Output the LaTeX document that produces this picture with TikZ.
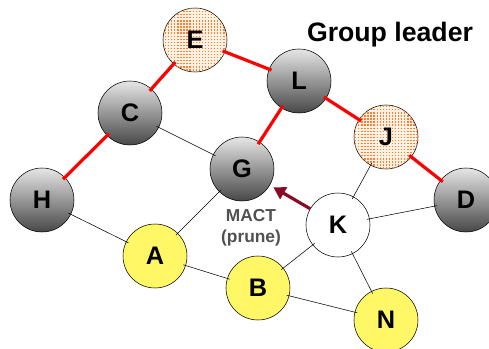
\documentclass[tikz,border=0pt]{standalone}
\usepackage{fontspec}
\setmainfont{Liberation Sans}
\usetikzlibrary{patterns,arrows.meta}
\definecolor{leaderdot}{RGB}{245,130,60}
\definecolor{pruneRed}{RGB}{140,10,40}
\definecolor{labelGray}{RGB}{80,80,80}
% fine dot raster for the leader hosts
\pgfdeclarepatternformonly{leaderdots}{\pgfqpoint{-1pt}{-1pt}}{\pgfqpoint{1pt}{1pt}}{\pgfqpoint{2.3pt}{2.3pt}}{%
  \pgfpathrectangle{\pgfqpoint{-0.5pt}{-0.5pt}}{\pgfqpoint{1pt}{1pt}}
  \pgfusepath{fill}}
\begin{document}
\begin{tikzpicture}[x=0.75pt,y=-0.75pt,
  host/.style={circle,draw,thin,minimum size=48pt,inner sep=0pt,
    font=\fontsize{19}{21}\selectfont\bfseries},
  member/.style={host,top color=black!10,middle color=black!30,bottom color=black!72},
  leader/.style={host,fill=orange!12,postaction={pattern=leaderdots,pattern color=leaderdot}},
  newbie/.style={host,fill=yellow!60},
  link/.style={thin,shorten <=-2pt,shorten >=-2pt},
  tree/.style={red,line width=2.4pt,shorten <=-2pt,shorten >=-2pt}]
  \useasboundingbox (0,0) rectangle (489,349);
  % hosts
  \node[leader] (E) at (195,40) {E};
  \node[member] (L) at (299,81) {L};
  \node[member] (C) at (130,113) {C};
  \node[leader] (J) at (386,137) {J};
  \node[member] (G) at (242,169) {G};
  \node[member] (H) at (42,200) {H};
  \node[member] (D) at (466,200) {D};
  \node[host] (K) at (338,225) {K};
  \node[newbie] (A) at (155,256) {A};
  \node[newbie] (B) at (258,288) {B};
  \node[newbie] (N) at (386,320) {N};
  % plain links
  \draw[link] (C) -- (G);
  \draw[link] (H) -- (A);
  \draw[link] (A) -- (G);
  \draw[link] (A) -- (B);
  \draw[link] (B) -- (K);
  \draw[link] (B) -- (N);
  \draw[link] (K) -- (N);
  \draw[link] (K) -- (D);
  \draw[link] (K) -- (J);
  % multicast tree
  \draw[tree] (H) -- (C);
  \draw[tree] (C) -- (E);
  \draw[tree] (E) -- (L);
  \draw[tree] (L) -- (G);
  \draw[tree] (L) -- (J);
  \draw[tree] (J) -- (D);
  % prune message
  \draw[pruneRed,line width=2.4pt,-{Triangle[length=9pt,width=10pt]},shorten >=3pt] (K) -- (G);
  \node[text=labelGray,font=\fontsize{13}{16}\selectfont\bfseries,align=center] (mact) at (251,228) {MACT\\(prune)};
  \node[font=\fontsize{20}{22}\selectfont\bfseries] (title) at (390,35) {Group leader};
\end{tikzpicture}
\end{document}
